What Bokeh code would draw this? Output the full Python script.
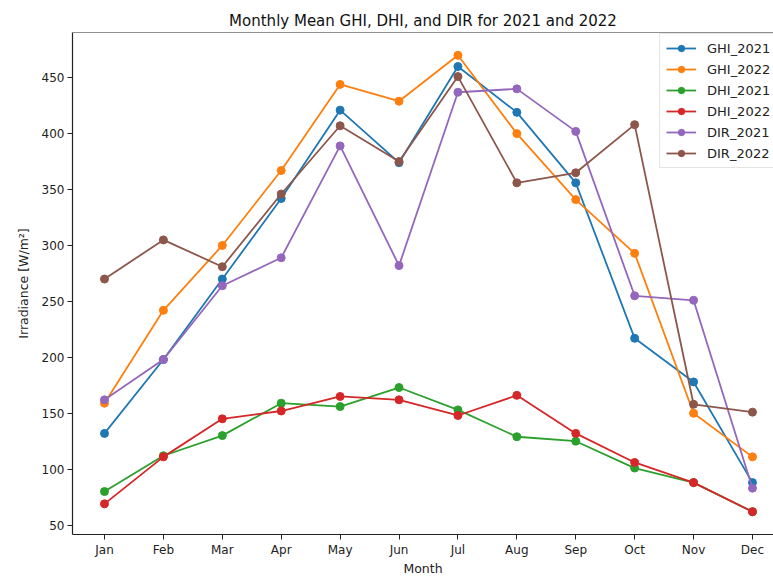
from bokeh.plotting import figure
from bokeh.models import Range1d, Legend, LegendItem, Span, FixedTicker
from bokeh.embed import file_html
from bokeh.resources import INLINE

months = ["Jan", "Feb", "Mar", "Apr", "May", "Jun", "Jul", "Aug", "Sep", "Oct", "Nov", "Dec"]
ghi_2021 = [132, 198, 270, 342, 421, 374, 460, 419, 356, 217, 178, 88]
ghi_2022 = [159, 242, 300, 367, 444, 429, 470, 400, 341, 293, 150, 111]
dhi_2021 = [80, 112, 130, 159, 156, 173, 153, 129, 125, 101, 88, 62]
dhi_2022 = [69, 111, 145, 152, 165, 162, 148, 166, 132, 106, 88, 62]
dir_2021 = [162, 198, 264, 289, 389, 282, 437, 440, 402, 255, 251, 83]
dir_2022 = [270, 305, 281, 346, 407, 375, 451, 356, 365, 408, 158, 151]

series = [
    ("GHI_2021", ghi_2021, "#1f77b4"),
    ("GHI_2022", ghi_2022, "#ff7f0e"),
    ("DHI_2021", dhi_2021, "#2ca02c"),
    ("DHI_2022", dhi_2022, "#d62728"),
    ("DIR_2021", dir_2021, "#9467bd"),
    ("DIR_2022", dir_2022, "#8c564b"),
]

xs = list(range(len(months)))
allv = [v for _, s, _ in series for v in s]
lo, hi = min(allv), max(allv)
pad = (hi - lo) * 0.05

p = figure(
    frame_width=701, frame_height=502,
    output_backend="svg", toolbar_location=None,
    x_range=Range1d(-0.543, 11.357),
    y_range=Range1d(lo - pad, hi + pad),
    min_border_left=72, min_border_top=32, min_border_right=0, min_border_bottom=30,
    title="Monthly Mean GHI, DHI, and DIR for 2021 and 2022",
)
p.title.align = "center"
p.title.text_font = "DejaVu Sans"
p.title.text_font_size = "15px"
p.title.text_font_style = "normal"
p.title.text_color = "#111111"
p.title.offset = 6
p.title.standoff = 6

p.xgrid.visible = False
p.ygrid.visible = False
p.outline_line_color = None
p.add_layout(Span(location=hi + pad, dimension="width", line_color="#222222", line_width=1.2))

p.xaxis.ticker = FixedTicker(ticks=xs)
p.xaxis.major_label_overrides = {i: m for i, m in enumerate(months)}
p.yaxis.ticker = FixedTicker(ticks=[50, 100, 150, 200, 250, 300, 350, 400, 450])
for ax in (p.xaxis, p.yaxis):
    ax.minor_tick_line_color = None
    ax.major_tick_in = 0
    ax.major_tick_out = 5
    ax.axis_line_color = "#222222"
    ax.axis_line_width = 1.2
    ax.major_tick_line_color = "#222222"
    ax.major_label_text_font = "DejaVu Sans"
    ax.major_label_text_font_size = "12px"
    ax.major_label_text_color = "#222222"
    ax.axis_label_text_font = "DejaVu Sans"
    ax.axis_label_text_font_size = "12.5px"
    ax.axis_label_text_font_style = "normal"
    ax.axis_label_text_color = "#222222"
    ax.major_label_standoff = 3
p.xaxis.axis_label = "Month"
p.yaxis.axis_label = "Irradiance [W/m²]"
p.xaxis.axis_label_standoff = 1
p.yaxis.axis_label_standoff = 8

items = []
for name, vals, color in series:
    r1 = p.line(xs, vals, line_color=color, line_width=1.8)
    r2 = p.scatter(xs, vals, size=8, fill_color=color, line_color=color, marker="circle")
    items.append(LegendItem(label=name, renderers=[r1, r2]))

legend = Legend(
    items=items, location=(587, 366),
    label_text_font="DejaVu Sans", label_text_font_size="13px", label_text_color="#222222",
    glyph_width=30, glyph_height=16, label_height=16, spacing=5, padding=6,
    label_standoff=11, margin=0,
    border_line_color="#cccccc", border_line_width=1, background_fill_alpha=0.9,
)
p.add_layout(legend, "center")

open("out.html", "w").write(file_html(p, INLINE))
